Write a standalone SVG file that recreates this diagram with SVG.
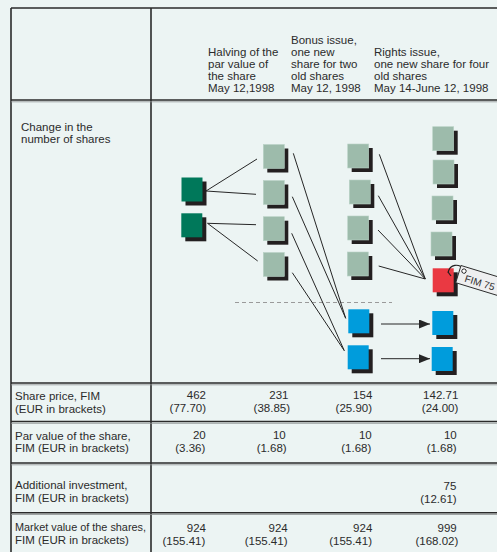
<svg xmlns="http://www.w3.org/2000/svg" width="497" height="552" viewBox="0 0 497 552">
  <style>
    .bg { fill: #ecf4f3; }
    .rule { stroke: #2a2a2a; stroke-width: 1.6; fill: none; }
    .rule2 { stroke: #8c8f8f; stroke-width: 0.8; fill: none; }
    .txt { font-family: "Liberation Sans", Arial, sans-serif; font-size: 11.5px; fill: #2b2b2b; }
    .num { text-anchor: end; }
    .shadow { fill: #231f20; }
    .green { fill: #00785a; }
    .grey { fill: #9dbbab; stroke: #b9d2c6; stroke-width: 0.6; }
    .red { fill: #ea3942; }
    .blue { fill: #009cdc; }
    .link { stroke: #262626; stroke-width: 1; fill: none; }
    .dash { stroke: #9a9a9a; stroke-width: 1; stroke-dasharray: 4 3; fill: none; }
  </style>
  <defs>
    <marker id="arrow" markerWidth="11" markerHeight="9" refX="11" refY="4.5" orient="auto" markerUnits="userSpaceOnUse">
      <path d="M0,0 L11,4.5 L0,9 Z" fill="#262626"/>
    </marker>
    <!-- one share: square with a drop shadow -->
    <g id="sq-shadow"><rect x="4" y="4" width="21" height="24" class="shadow"/></g>
  </defs>

  <rect x="0" y="0" width="497" height="552" class="bg"/>

  <!-- table frame -->
  <g id="table">
    <line x1="11" y1="8" x2="497" y2="8" class="rule"/>
    <line x1="11" y1="8" x2="11" y2="552" class="rule"/>
    <line x1="151" y1="8" x2="151" y2="552" class="rule"/>
    <line x1="11" y1="100" x2="497" y2="100" class="rule"/>
    <line x1="11" y1="101.8" x2="497" y2="101.8" class="rule2"/>
    <line x1="11" y1="383" x2="497" y2="383" class="rule"/>
    <line x1="11" y1="384.8" x2="497" y2="384.8" class="rule2"/>
    <line x1="11" y1="421.5" x2="497" y2="421.5" class="rule"/>
    <line x1="11" y1="423.3" x2="497" y2="423.3" class="rule2"/>
    <line x1="11" y1="463" x2="497" y2="463" class="rule"/>
    <line x1="11" y1="464.8" x2="497" y2="464.8" class="rule2"/>
    <line x1="11" y1="512.7" x2="497" y2="512.7" class="rule"/>
    <line x1="11" y1="514.5" x2="497" y2="514.5" class="rule2"/>
  </g>

  <!-- column headings -->
  <g id="headings" class="txt">
    <text x="208" y="55.5">Halving of the</text>
    <text x="208" y="67.5">par value of</text>
    <text x="208" y="79.5">the share</text>
    <text x="208" y="91.5">May 12,1998</text>

    <text x="291" y="43.5">Bonus issue,</text>
    <text x="291" y="55.5">one new</text>
    <text x="291" y="67.5">share for two</text>
    <text x="291" y="79.5">old shares</text>
    <text x="291" y="91.5">May 12, 1998</text>

    <text x="374" y="55.5">Rights issue,</text>
    <text x="374" y="67.5">one new share for four</text>
    <text x="374" y="79.5">old shares</text>
    <text x="374" y="91.5">May 14-June 12, 1998</text>
  </g>

  <!-- row labels -->
  <g id="row-labels" class="txt">
    <text x="21" y="131">Change in the</text>
    <text x="21" y="143">number of shares</text>
    <text x="15" y="400">Share price, FIM</text>
    <text x="15" y="412.5">(EUR in brackets)</text>
    <text x="15" y="439.5">Par value of the share,</text>
    <text x="15" y="452">FIM (EUR in brackets)</text>
    <text x="15" y="489">Additional investment,</text>
    <text x="15" y="501.5">FIM (EUR in brackets)</text>
    <text x="15" y="531" textLength="131" lengthAdjust="spacingAndGlyphs">Market value of the shares,</text>
    <text x="15" y="543.5">FIM (EUR in brackets)</text>
  </g>

  <!-- table values -->
  <g id="values" class="txt num">
    <text x="206" y="398.5">462</text>
    <text x="206" y="411.5">(77.70)</text>
    <text x="288.5" y="398.5">231</text>
    <text x="290" y="411.5">(38.85)</text>
    <text x="372.3" y="398.5">154</text>
    <text x="372" y="411.5">(25.90)</text>
    <text x="458.3" y="398.5">142.71</text>
    <text x="458.3" y="411.5">(24.00)</text>

    <text x="205.7" y="439.3">20</text>
    <text x="205.3" y="452.3">(3.36)</text>
    <text x="285.7" y="439.3">10</text>
    <text x="286.7" y="452.3">(1.68)</text>
    <text x="371.7" y="439.3">10</text>
    <text x="371.3" y="452.3">(1.68)</text>
    <text x="456.7" y="439.3">10</text>
    <text x="456.7" y="452.3">(1.68)</text>

    <text x="456.3" y="490">75</text>
    <text x="456.7" y="502.7">(12.61)</text>

    <text x="206" y="531.5">924</text>
    <text x="205.3" y="544.5">(155.41)</text>
    <text x="287.7" y="531.5">924</text>
    <text x="287.5" y="544.5">(155.41)</text>
    <text x="372.3" y="531.5">924</text>
    <text x="372" y="544.5">(155.41)</text>
    <text x="456.7" y="531.5">999</text>
    <text x="458.3" y="544.5">(168.02)</text>
  </g>

  <!-- dividing line between old and new shares -->
  <line x1="235" y1="302.5" x2="392" y2="302.5" class="dash"/>

  <!-- connectors -->
  <g id="connectors">
    <line x1="206" y1="191" x2="257" y2="159" class="link"/>
    <line x1="206" y1="191" x2="256" y2="194.3" class="link"/>
    <line x1="207.5" y1="223.3" x2="256" y2="224.7" class="link"/>
    <line x1="207.5" y1="223.3" x2="257.7" y2="261" class="link"/>

    <line x1="293.3" y1="153.3" x2="345.7" y2="318.3" class="link"/>
    <line x1="292.3" y1="196.7" x2="345.7" y2="318.3" class="link"/>
    <line x1="291.7" y1="233.3" x2="344.3" y2="350.7" class="link"/>
    <line x1="292.3" y1="272.7" x2="344.3" y2="350.7" class="link"/>

    <line x1="379.3" y1="154.3" x2="425.3" y2="279" class="link"/>
    <line x1="378.3" y1="195.7" x2="425.3" y2="279" class="link"/>
    <line x1="378" y1="230" x2="425.3" y2="279" class="link"/>
    <line x1="378.7" y1="266" x2="425.3" y2="279" class="link"/>

    <line x1="381" y1="324" x2="430" y2="324" class="link" marker-end="url(#arrow)"/>
    <line x1="381" y1="358.7" x2="430" y2="358.7" class="link" marker-end="url(#arrow)"/>
  </g>

  <!-- original shares -->
  <g id="old-1" transform="translate(181.5,177.5)"><use href="#sq-shadow"/><rect width="21" height="24" class="green"/></g>
  <g id="old-2" transform="translate(181.3,213.3)"><use href="#sq-shadow"/><rect width="21" height="24" class="green"/></g>

  <!-- after halving of par value -->
  <g id="split-1" transform="translate(263.3,144.5)"><use href="#sq-shadow"/><rect width="21" height="24" class="grey"/></g>
  <g id="split-2" transform="translate(263.3,180.5)"><use href="#sq-shadow"/><rect width="21" height="24" class="grey"/></g>
  <g id="split-3" transform="translate(263.3,216.7)"><use href="#sq-shadow"/><rect width="21" height="24" class="grey"/></g>
  <g id="split-4" transform="translate(263.3,252.5)"><use href="#sq-shadow"/><rect width="21" height="24" class="grey"/></g>

  <!-- after bonus issue -->
  <g id="bonus-1" transform="translate(347.7,144)"><use href="#sq-shadow"/><rect width="21" height="24" class="grey"/></g>
  <g id="bonus-2" transform="translate(349.3,180)"><use href="#sq-shadow"/><rect width="21" height="24" class="grey"/></g>
  <g id="bonus-3" transform="translate(347.7,216)"><use href="#sq-shadow"/><rect width="21" height="24" class="grey"/></g>
  <g id="bonus-4" transform="translate(347.3,252)"><use href="#sq-shadow"/><rect width="21" height="24" class="grey"/></g>
  <g id="bonus-new-1" transform="translate(348.3,309.3)"><use href="#sq-shadow"/><rect width="21" height="24" class="blue"/></g>
  <g id="bonus-new-2" transform="translate(347.7,345.3)"><use href="#sq-shadow"/><rect width="21" height="24" class="blue"/></g>

  <!-- after rights issue -->
  <g id="rights-1" transform="translate(432.7,126.7)"><use href="#sq-shadow"/><rect width="21" height="24" class="grey"/></g>
  <g id="rights-2" transform="translate(433,160)"><use href="#sq-shadow"/><rect width="21" height="24" class="grey"/></g>
  <g id="rights-3" transform="translate(432,196)"><use href="#sq-shadow"/><rect width="21" height="24" class="grey"/></g>
  <g id="rights-4" transform="translate(431,232)"><use href="#sq-shadow"/><rect width="21" height="24" class="grey"/></g>
  <g id="rights-new" transform="translate(432.7,268.3)"><use href="#sq-shadow"/><rect width="21" height="24" class="red"/></g>
  <g id="rights-5" transform="translate(432.3,311)"><use href="#sq-shadow"/><rect width="21" height="24" class="blue"/></g>
  <g id="rights-6" transform="translate(431.7,347)"><use href="#sq-shadow"/><rect width="21" height="24" class="blue"/></g>

  <!-- price tag on the new share -->
  <g id="price-tag">
    <path d="M448,272.5 C450,264 459,263 464,269.5" fill="none" stroke="#1e1e1e" stroke-width="1.2"/>
    <path d="M448,272 L451,276" fill="none" stroke="#1e1e1e" stroke-width="1.2"/>
    <g transform="translate(461,265.5) rotate(17)">
      <rect x="0" y="0" width="52" height="18" fill="#eeeff0" stroke="#2a2a2a" stroke-width="0.9"/>
      <circle cx="4.5" cy="4.5" r="2.2" fill="#ffffff" stroke="#2a2a2a" stroke-width="0.9"/>
      <text x="7.5" y="14.5" class="txt" style="font-size:10px">FIM 75</text>
    </g>
  </g>
</svg>
